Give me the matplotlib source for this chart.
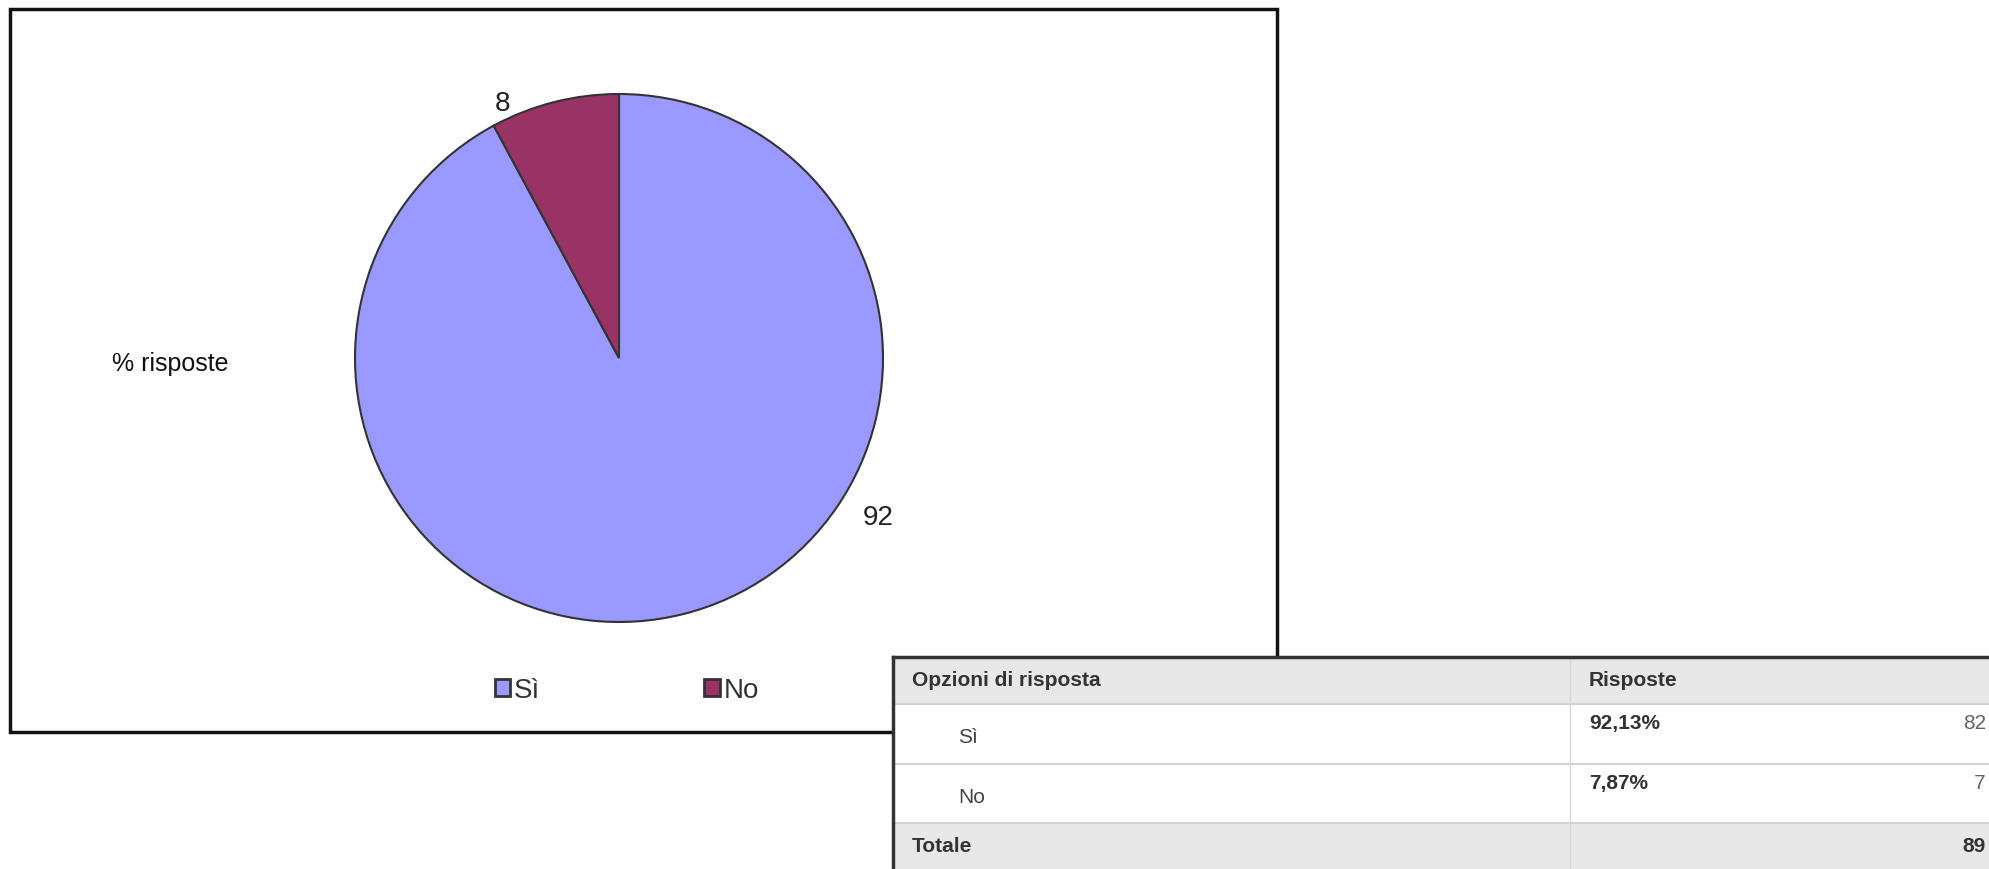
import matplotlib.pyplot as plt
import numpy as np
from matplotlib.patches import Rectangle

W, H = 1989, 870
plt.rcParams['font.family'] = ['Liberation Sans', 'DejaVu Sans']

# data
options = ['Sì', 'No']
percent = [92.13, 7.87]
counts = [82, 7]
total = 89
colors = ['#9999ff', '#993366']

fig = plt.figure(figsize=(W / 100, H / 100), dpi=100)

# chart frame
fig.patches.append(Rectangle((10 / W, 1 - 733 / H), 1267 / W, 723 / H,
                             transform=fig.transFigure, fill=False,
                             edgecolor='#111111', linewidth=2.5, zorder=0))

# pie
R = 264
half = R * 1.3
cx, cy = 619, H - 359
ax = fig.add_axes([(cx - half) / W, (cy - half) / H, 2 * half / W, 2 * half / H])
wedges, _ = ax.pie(percent, colors=colors, startangle=90, counterclock=False,
                   wedgeprops=dict(edgecolor='#333333', linewidth=1.5))
ax.set_xlim(-1.3, 1.3)
ax.set_ylim(-1.3, 1.3)
ax.set_aspect('equal')
ax.axis('off')

label_pos = [(-31.5, 1.15), (114.5, 1.06)]
for p, (ang, r) in zip(percent, label_pos):
    a = np.deg2rad(ang)
    ax.text(r * np.cos(a), r * np.sin(a), f'{round(p)}', ha='center', va='center',
            fontsize=20, color='#222222')

fig.text(170 / W, 1 - 364 / H, '% risposte', ha='center', va='center',
         fontsize=18, color='#111111')

leg = fig.legend(wedges, options, loc='center', bbox_to_anchor=(627 / W, 1 - 691 / H),
                 ncol=2, frameon=False, fontsize=20, handlelength=0.55, handleheight=0.55,
                 handletextpad=0.15, columnspacing=5.9)
for h in leg.legend_handles:
    h.set_edgecolor('#333333')
    h.set_linewidth(2)
for t in leg.get_texts():
    t.set_color('#333333')

# response table
tx = fig.add_axes([0, 0, 1, 1], zorder=5)
tx.set_xlim(0, W)
tx.set_ylim(H, 0)
tx.axis('off')
left, mid = 893, 1570
rows = [658, 705, 765, 824, 870]
tx.add_patch(Rectangle((left, rows[0]), W - left, H - rows[0], facecolor='white', edgecolor='none'))
tx.add_patch(Rectangle((left, rows[0]), W - left, rows[1] - rows[0], facecolor='#e8e8e8', edgecolor='none'))
tx.add_patch(Rectangle((left, rows[3]), W - left, rows[4] - rows[3], facecolor='#e8e8e8', edgecolor='none'))
for y in rows[1:4]:
    tx.plot([left, W], [y, y], color='#d2d2d2', lw=1.5)
tx.plot([mid, mid], [rows[0], H], color='#d8d8d8', lw=1)
tx.plot([left, W], [rows[0], rows[0]], color='#333333', lw=2.5)
tx.plot([left, left], [rows[0], H], color='#333333', lw=2.5)

tkw = dict(fontsize=15, va='center')
tx.text(912, 681, 'Opzioni di risposta', weight='bold', color='#333333', **tkw)
tx.text(1589, 681, 'Risposte', weight='bold', color='#333333', **tkw)
for i, (o, p, c) in enumerate(zip(options, percent, counts)):
    top = rows[1 + i]
    tx.text(958, top + 33, o, color='#444444', **tkw)
    tx.text(1589, top + 19, f'{p:.2f}%'.replace('.', ','), weight='bold', color='#333333', **tkw)
    tx.text(1986, top + 19, str(c), ha='right', color='#666666', **tkw)
tx.text(912, 847, 'Totale', weight='bold', color='#333333', **tkw)
tx.text(1986, 847, str(total), ha='right', weight='bold', color='#333333', **tkw)

fig.savefig('out.png', dpi=100)
